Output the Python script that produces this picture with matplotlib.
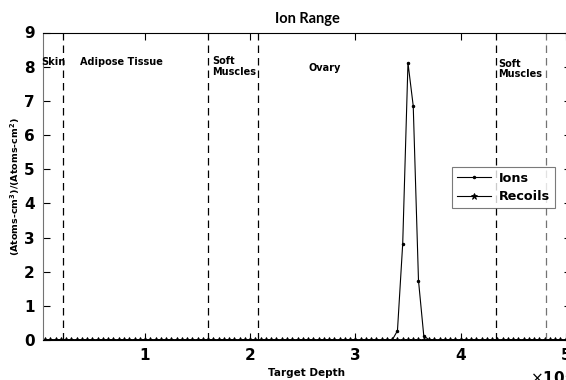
import numpy as np
import matplotlib.pyplot as plt

# depth bins (Angstrom), 100 bins of 5000
depth = np.arange(1, 101) * 5000
ions = [0.0] * 67 + [0.27, 2.82, 8.11, 6.85, 1.74, 0.13] + [0.0] * 27
recoils = [0.0] * 100

# tissue boundaries and labels
boundaries = [0.218e5, 1.60e5, 2.076e5, 4.34e5, 4.815e5]
boundary_colors = ['k', 'k', 'k', 'k', '0.45']
regions = ['Skin', 'Adipose Tissue', 'Soft\nMuscles', 'Ovary', 'Soft\nMuscles']
region_x = [0.01e5, 0.38e5, 1.64e5, 2.55e5, 4.36e5]
region_y = [8.14, 8.14, 8.01, 7.96, 7.93]

fig = plt.figure(figsize=(5.66, 3.8), dpi=100)
ax = fig.add_axes([43 / 566, 40 / 380, 528 / 566, 307.5 / 380])

ax.plot(depth, recoils, color='k', lw=0.8, marker='*', ms=5, mew=0.6, label='Recoils', zorder=2)
ax.plot(depth, ions, color='k', lw=0.8, marker='.', ms=3, label='Ions', zorder=3)

for b, c in zip(boundaries, boundary_colors):
    ax.axvline(b, color=c, lw=0.9, ls=(0, (6, 4)))

for name, x, y in zip(regions, region_x, region_y):
    ax.text(x, y, name, fontsize=7, fontweight='bold', va='center', ha='left',
            linespacing=1.1)

ax.set_xlim(0.03e5, 5.05e5)
ax.set_ylim(0, 9)
ax.set_xticks([1e5, 2e5, 3e5, 4e5, 5e5])
ax.set_xticklabels(['1', '2', '3', '4', '5'])
ax.set_yticks(range(10))
ax.tick_params(direction='in', top=True, right=True, length=5, width=0.8,
               labelsize=11, pad=6)
for lab in ax.get_xticklabels() + ax.get_yticklabels():
    lab.set_fontweight('bold')
for s in ax.spines.values():
    s.set_linewidth(0.8)
ax.spines['left'].set_color('0.45')

ax.set_title('Ion Range', fontsize=10.5, fontweight='bold', family='Lato', pad=7)
ax.set_xlabel('Target Depth', fontsize=7.5, fontweight='bold', labelpad=3)
ax.set_ylabel('(Atoms-cm$^\\mathbf{3}$)/(Atoms-cm$^\\mathbf{2}$)', fontsize=6.8,
              fontweight='bold')
ax.yaxis.set_label_coords(-21 / 528, 0.5)

h, l = ax.get_legend_handles_labels()
leg = ax.legend(h[::-1], l[::-1], loc='upper left', bbox_to_anchor=(0.762, 0.585),
                prop={'weight': 'bold', 'size': 9.2}, fancybox=False,
                edgecolor='0.35', handlelength=2.7, handletextpad=0.6,
                borderpad=0.4, labelspacing=0.45)
leg.get_frame().set_linewidth(0.8)

fig.text(530 / 566, -7 / 380, '$\\times$10$^5$', fontsize=11, fontweight='bold',
         ha='left', va='bottom')

fig.savefig('out.png', dpi=100)
